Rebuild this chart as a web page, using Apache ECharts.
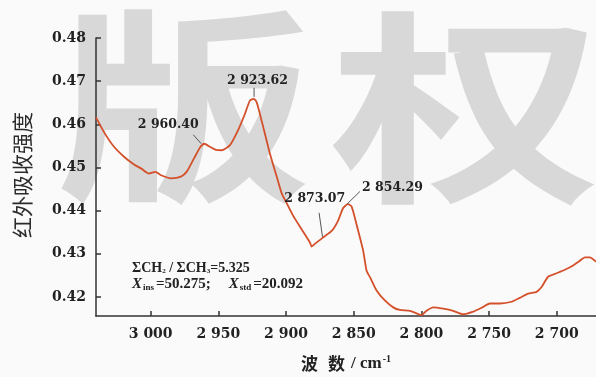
<!DOCTYPE html>
<html>
<head>
<meta charset="utf-8">
<script src="https://cdn.jsdelivr.net/npm/echarts@6/dist/echarts.min.js"></script>
<style>
  html, body { margin: 0; padding: 0; background: #fafafa; }
  #chart { width: 596px; height: 377px; }
</style>
</head>
<body>
<div id="chart"></div>
<script>
// IR absorbance spectrum, C–H stretching region (wavenumber in cm^-1)
const wavenumbers = [
  3040.4, 3034.5, 3027.1, 3019.7, 3012.3, 3007.2, 3001.3, 2996.5, 2992.4, 2985.0,
  2977.6, 2973.2, 2968.0, 2963.2, 2960.40, 2956.2, 2951.8, 2947.7, 2941.4, 2935.5,
  2930.4, 2926.7, 2923.62, 2921.7, 2919.3, 2915.6, 2911.9, 2906.9, 2903.2, 2899.6,
  2894.7, 2888.5, 2882.3, 2881.1, 2878.7, 2873.07, 2866.3, 2861.7, 2857.8, 2854.29,
  2851.6, 2847.9, 2843.0, 2840.5, 2838.0, 2833.1, 2827.0, 2820.8, 2815.9, 2808.5,
  2803.5, 2799.9, 2796.2, 2791.3, 2783.9, 2776.5, 2769.1, 2761.7, 2755.5, 2749.4,
  2742.0, 2733.4, 2727.3, 2721.1, 2714.9, 2711.2, 2706.4, 2700.1, 2694.0, 2687.9,
  2682.9, 2679.2, 2675.6, 2671.1
];
const absorbance = [
  0.4616, 0.4582, 0.4548, 0.4525, 0.4507, 0.4498, 0.4486, 0.4490, 0.4482, 0.4475,
  0.4479, 0.4491, 0.4521, 0.4548, 0.4555, 0.4548, 0.4541, 0.4540, 0.4552, 0.4586,
  0.4624, 0.4655, 0.4659, 0.4651, 0.4624, 0.4578, 0.4532, 0.4479, 0.4440, 0.4418,
  0.4388, 0.4357, 0.4326, 0.4317, 0.4323, 0.4337, 0.4353, 0.4376, 0.4406, 0.4415,
  0.4410, 0.4368, 0.4307, 0.4261, 0.4246, 0.4215, 0.4192, 0.4176, 0.4170, 0.4168,
  0.4162, 0.4158, 0.4168, 0.4176, 0.4173, 0.4168, 0.4160, 0.4166, 0.4175, 0.4185,
  0.4185, 0.4189, 0.4198, 0.4208, 0.4212, 0.4223, 0.4247, 0.4255, 0.4263, 0.4273,
  0.4284, 0.4292, 0.4292, 0.4282
];

// Peak annotations
const peakWavenumbers = [2960.40, 2923.62, 2873.07, 2854.29];
const peakLabels = ['2 960.40', '2 923.62', '2 873.07', '2 854.29'];

// Axis ticks
const xTicks = [3000, 2950, 2900, 2850, 2800, 2750, 2700];
const yTicks = [0.42, 0.43, 0.44, 0.45, 0.46, 0.47, 0.48];

// Inset text
const ratioText = '5.325';
const xInsText = '50.275';
const xStdText = '20.092';

// Pixel offsets of each annotation: label centre and leader-line ends, relative to the peak
const peakLayout = [
  { label: [-36, -19], lead: [[-11, -9], [-3, 0]] },
  { label: [3.5, -18.5], lead: [[0, -11], [0, -2]] },
  { label: [-7.7, -39], lead: [[-3.4, -25], [0, -1]] },
  { label: [44.5, -16], lead: [[-1, 0], [12, -12.7]] }
];

const seriesData = wavenumbers.map((w, i) => [w, absorbance[i]]);
const peakData = peakWavenumbers.map((w) => [w, absorbance[wavenumbers.indexOf(w)]]);

const serif = '"DejaVu Serif", serif';
const times = '"Liberation Serif", "Times New Roman", serif';
const fmtThousands = (v) => {
  const s = String(v);
  return s.length > 3 ? s.slice(0, s.length - 3) + ' ' + s.slice(-3) : s;
};

const watermarkStyle = (ch) => ({
  text: ch, font: 'bold 206px "Noto Sans CJK SC"', fill: '#d8d8d8',
  align: 'center', verticalAlign: 'middle'
});

const chart = echarts.init(document.getElementById('chart'));
chart.setOption({
  backgroundColor: '#fafafa',
  animation: false,
  graphic: [
    { type: 'text', x: 184, y: 106, scaleX: 1.25, z: -10, silent: true, style: watermarkStyle('版') },
    { type: 'text', x: 466, y: 108, scaleX: 1.32, z: -10, silent: true, style: watermarkStyle('权') },
    {
      type: 'text', x: 22, y: 175, rotation: Math.PI / 2, z: 10,
      style: {
        text: '红外吸收强度', font: '21px "Noto Sans CJK SC"', fill: '#2b2b2b',
        align: 'center', verticalAlign: 'middle'
      }
    },
    {
      type: 'text', left: 132, top: 261, z: 10,
      style: {
        text: '{b|ΣCH}{s|2}{b| / ΣCH}{s|3}{b|=' + ratioText + '}\n' +
              '{i|X}{s2|ins}{n|=' + xInsText + ';}{gap|}{i|X}{s2|std}{n|=' + xStdText + '}',
        rich: {
          b: { font: 'bold 14px ' + times, fill: '#222', lineHeight: 16 },
          n: { font: 'bold 15px ' + times, fill: '#222', lineHeight: 16 },
          i: { font: 'italic bold 15px ' + times, fill: '#222', lineHeight: 16 },
          gap: { width: 18, lineHeight: 16 },
          s: { font: 'bold 7px ' + times, fill: '#222', lineHeight: 16, padding: [7, 0, 0, 0] },
          s2: { font: 'bold 9px ' + times, fill: '#222', lineHeight: 16, padding: [7, 2, 0, 1] }
        }
      }
    }
  ],
  grid: { left: 96, right: 0, top: 38, bottom: 58 },
  xAxis: {
    type: 'value',
    inverse: true,
    min: 2671,
    max: 3040.4,
    axisLine: { show: true, onZero: false, lineStyle: { color: '#333', width: 1.5 } },
    axisTick: { show: true, inside: true, length: 5, customValues: xTicks, lineStyle: { color: '#333', width: 1.5 } },
    axisLabel: {
      customValues: xTicks, margin: 11,
      formatter: (v) => fmtThousands(v),
      fontFamily: serif, fontWeight: 'bold', fontSize: 14, color: '#222'
    },
    splitLine: { show: false },
    name: '{c1|波}{c2|数}{t|/ cm}{p|-1}',
    nameLocation: 'middle',
    nameGap: 38,
    nameTextStyle: {
      rich: {
        c1: { fontFamily: '"Noto Sans CJK SC"', fontWeight: 'bold', fontSize: 17, color: '#222', padding: [0, 10, 0, 0] },
        c2: { fontFamily: '"Noto Sans CJK SC"', fontWeight: 'bold', fontSize: 17, color: '#222', padding: [0, 6, 0, 0] },
        t: { fontFamily: times, fontWeight: 'bold', fontSize: 17, color: '#222' },
        p: { fontFamily: times, fontWeight: 'bold', fontSize: 10, color: '#222', padding: [0, 0, 9, 1] }
      }
    }
  },
  yAxis: {
    type: 'value',
    min: 0.4156,
    max: 0.48,
    axisLine: { show: true, onZero: false, lineStyle: { color: '#333', width: 1.5 } },
    axisTick: { show: true, inside: true, length: 5, customValues: yTicks, lineStyle: { color: '#333', width: 1.5 } },
    axisLabel: {
      customValues: yTicks, margin: 10,
      formatter: (v) => v.toFixed(2),
      fontFamily: serif, fontWeight: 'bold', fontSize: 14, color: '#222'
    },
    splitLine: { show: false }
  },
  series: [
    {
      type: 'line',
      data: seriesData,
      showSymbol: false,
      smooth: 0.2,
      lineStyle: { color: '#d4502b', width: 1.8 },
      z: 3
    },
    {
      type: 'custom',
      data: peakData,
      z: 4,
      renderItem: (params, api) => {
        const i = params.dataIndex;
        const p = api.coord([api.value(0), api.value(1)]);
        const lay = peakLayout[i];
        return {
          type: 'group',
          children: [
            {
              type: 'line',
              shape: {
                x1: p[0] + lay.lead[0][0], y1: p[1] + lay.lead[0][1],
                x2: p[0] + lay.lead[1][0], y2: p[1] + lay.lead[1][1]
              },
              style: { stroke: '#555', lineWidth: 1 }
            },
            {
              type: 'text',
              x: p[0] + lay.label[0], y: p[1] + lay.label[1],
              style: {
                text: peakLabels[i], font: 'bold 12.5px ' + serif, fill: '#222',
                align: 'center', verticalAlign: 'middle'
              }
            }
          ]
        };
      }
    }
  ]
});
</script>
</body>
</html>
